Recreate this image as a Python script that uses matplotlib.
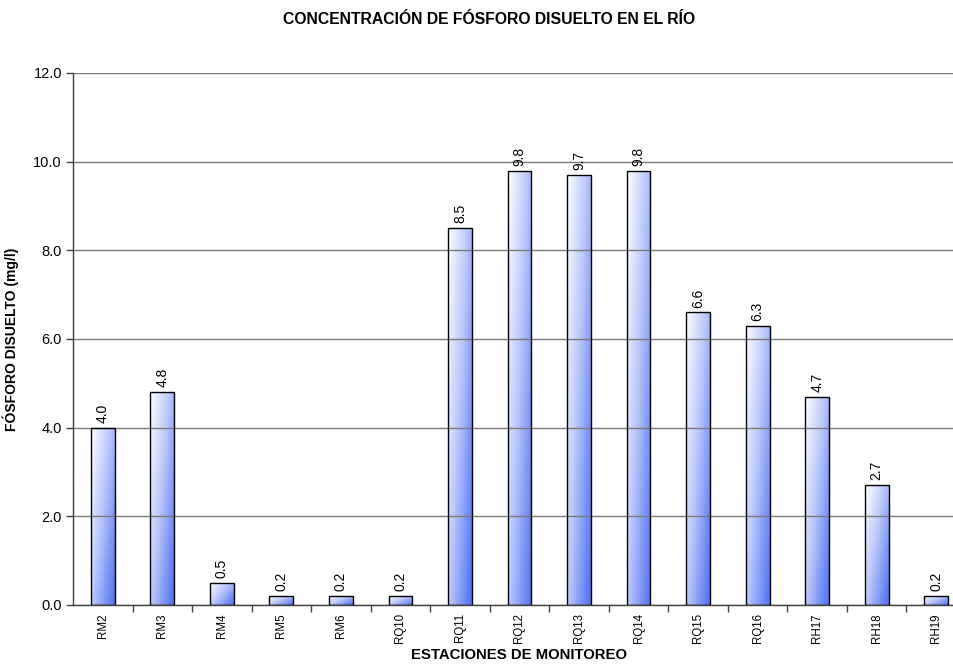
import numpy as np
import matplotlib
matplotlib.use("Agg")
import matplotlib.pyplot as plt
from matplotlib.colors import LinearSegmentedColormap
from matplotlib.ticker import FixedLocator, FormatStrFormatter

plt.rcParams['font.family'] = ['Liberation Sans', 'DejaVu Sans']

stations = ["RM2", "RM3", "RM4", "RM5", "RM6", "RQ10", "RQ11", "RQ12",
            "RQ13", "RQ14", "RQ15", "RQ16", "RH17", "RH18", "RH19"]
phosphorus = [4.0, 4.8, 0.5, 0.2, 0.2, 0.2, 8.5, 9.8,
              9.7, 9.8, 6.6, 6.3, 4.7, 2.7, 0.2]

W, H = 954, 665
fig = plt.figure(figsize=(W / 100, H / 100), dpi=100)
left, right, top, bottom = 73, 966, 73, 605
ax = fig.add_axes([left / W, (H - bottom) / H, (right - left) / W, (bottom - top) / H])

x = np.arange(len(stations))
bar_w = 0.4
bars = ax.bar(x, phosphorus, width=bar_w, facecolor="none", edgecolor="black",
              linewidth=1.0, zorder=3)

# diagonal white-to-blue fill inside each bar
cmap = LinearSegmentedColormap.from_list("wb", ["#ffffff", "#b8c6fb", "#5777f3"])
u = np.linspace(0, 1, 64)[None, :]
v = np.linspace(1, 0, 64)[:, None]
grad = np.clip(0.6 * u + 0.45 * (1 - v), 0, 1)
for rect in bars:
    x0, w, h = rect.get_x(), rect.get_width(), rect.get_height()
    im = ax.imshow(grad, cmap=cmap, vmin=0, vmax=1, aspect="auto",
                   extent=[x0, x0 + w, 0, h], origin="upper", zorder=2,
                   interpolation="bilinear")
    im.set_clip_path(rect)

for xi, val in zip(x, phosphorus):
    ax.annotate(f"{val:.1f}", (xi, val), xytext=(0, 3.5), textcoords="offset points",
                rotation=90, ha="center", va="bottom", fontsize=10, zorder=5)

ax.set_xlim(-0.5, len(stations) - 0.5)
ax.set_ylim(0, 12)
ax.yaxis.set_major_locator(FixedLocator(np.arange(0, 12.1, 2)))
ax.yaxis.set_major_formatter(FormatStrFormatter("%.1f"))
ax.grid(axis="y", color="#7a7a7a", linewidth=1.0, zorder=4)
ax.set_axisbelow(False)

ax.set_xticks(x)
ax.set_xticklabels(stations, rotation=90, fontsize=8.3)
ax.set_xticks(np.arange(0.5, len(stations) - 0.5, 1), minor=True)
ax.tick_params(axis="x", which="major", length=0, pad=6)
ax.tick_params(axis="x", which="minor", length=5, width=1, color="#404040", direction="out")
ax.tick_params(axis="y", length=5, width=1, color="#404040", labelsize=10.5, pad=3)

for s in ["top", "right"]:
    ax.spines[s].set_visible(False)
for s in ["left", "bottom"]:
    ax.spines[s].set_color("#404040")
    ax.spines[s].set_linewidth(1.0)
    ax.spines[s].set_zorder(6)

ax.set_xlabel("ESTACIONES DE MONITOREO", fontsize=10.7, fontweight="bold", labelpad=3)
ax.set_ylabel("FÓSFORO DISUELTO (mg/l)", fontsize=10, fontweight="bold", labelpad=10)

fig.text(489 / W, 1 - 20 / H, "CONCENTRACIÓN DE FÓSFORO DISUELTO EN EL RÍO",
         ha="center", va="center", fontsize=11.3, fontweight="bold")

fig.savefig("out.png", dpi=100)
